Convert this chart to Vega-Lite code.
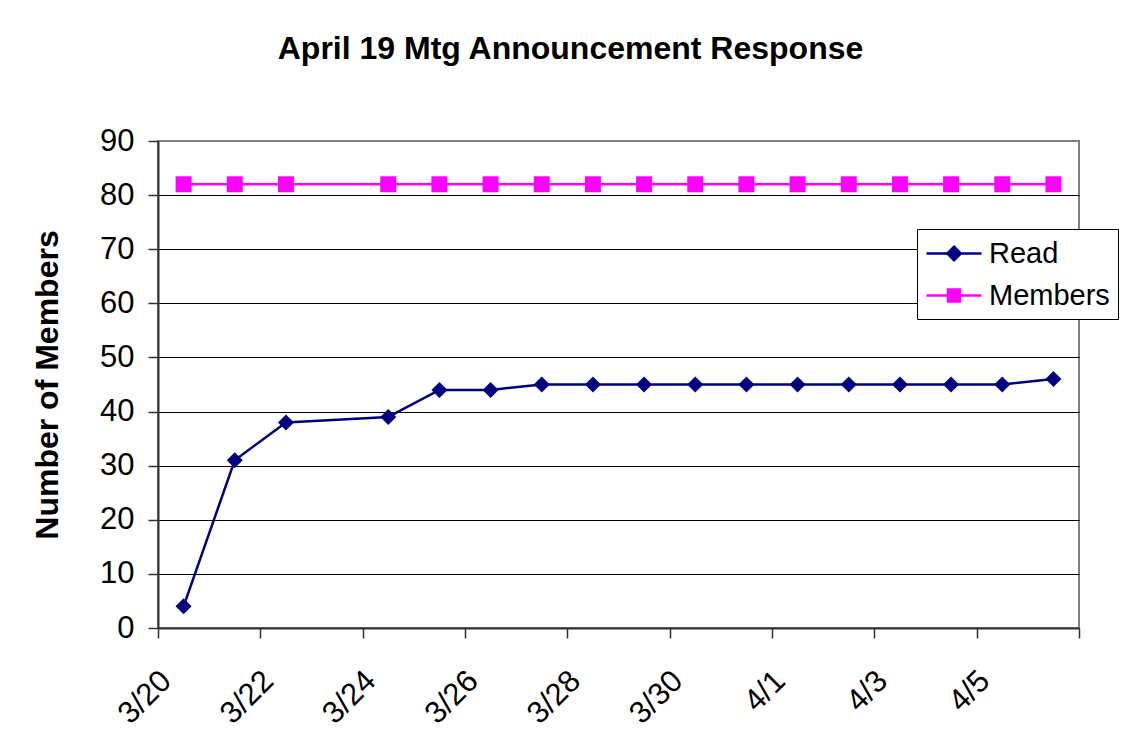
{
  "$schema": "https://vega.github.io/schema/vega-lite/v6.json",
  "width": 921,
  "height": 487,
  "autosize": {"type": "none"},
  "padding": {"left": 158, "top": 141, "right": 43, "bottom": 124},
  "background": "white",
  "config": {
    "font": "Liberation Sans",
    "view": {"stroke": "#808080", "strokeWidth": 2},
    "axis": {
      "labelFont": "Liberation Sans",
      "labelFontSize": 31,
      "labelColor": "black",
      "titleFont": "Liberation Sans",
      "titleFontSize": 32,
      "titleFontWeight": "bold",
      "titleColor": "black",
      "domainColor": "#333333",
      "domainWidth": 2,
      "tickColor": "#333333",
      "tickWidth": 1.5,
      "tickSize": 10
    }
  },
  "title": {
    "text": "April 19 Mtg Announcement Response",
    "font": "Liberation Sans",
    "fontSize": 32,
    "fontWeight": "bold",
    "color": "black",
    "anchor": "middle",
    "frame": "group",
    "dx": -48,
    "baseline": "bottom",
    "offset": 27
  },
  "data": {
    "values": [
      {"date": "2008-03-20", "series": "Read", "value": 4},
      {"date": "2008-03-21", "series": "Read", "value": 31},
      {"date": "2008-03-22", "series": "Read", "value": 38},
      {"date": "2008-03-24", "series": "Read", "value": 39},
      {"date": "2008-03-25", "series": "Read", "value": 44},
      {"date": "2008-03-26", "series": "Read", "value": 44},
      {"date": "2008-03-27", "series": "Read", "value": 45},
      {"date": "2008-03-28", "series": "Read", "value": 45},
      {"date": "2008-03-29", "series": "Read", "value": 45},
      {"date": "2008-03-30", "series": "Read", "value": 45},
      {"date": "2008-03-31", "series": "Read", "value": 45},
      {"date": "2008-04-01", "series": "Read", "value": 45},
      {"date": "2008-04-02", "series": "Read", "value": 45},
      {"date": "2008-04-03", "series": "Read", "value": 45},
      {"date": "2008-04-04", "series": "Read", "value": 45},
      {"date": "2008-04-05", "series": "Read", "value": 45},
      {"date": "2008-04-06", "series": "Read", "value": 46},
      {"date": "2008-03-20", "series": "Members", "value": 82},
      {"date": "2008-03-21", "series": "Members", "value": 82},
      {"date": "2008-03-22", "series": "Members", "value": 82},
      {"date": "2008-03-24", "series": "Members", "value": 82},
      {"date": "2008-03-25", "series": "Members", "value": 82},
      {"date": "2008-03-26", "series": "Members", "value": 82},
      {"date": "2008-03-27", "series": "Members", "value": 82},
      {"date": "2008-03-28", "series": "Members", "value": 82},
      {"date": "2008-03-29", "series": "Members", "value": 82},
      {"date": "2008-03-30", "series": "Members", "value": 82},
      {"date": "2008-03-31", "series": "Members", "value": 82},
      {"date": "2008-04-01", "series": "Members", "value": 82},
      {"date": "2008-04-02", "series": "Members", "value": 82},
      {"date": "2008-04-03", "series": "Members", "value": 82},
      {"date": "2008-04-04", "series": "Members", "value": 82},
      {"date": "2008-04-05", "series": "Members", "value": 82},
      {"date": "2008-04-06", "series": "Members", "value": 82}
    ]
  },
  "encoding": {
    "x": {
      "field": "date",
      "type": "temporal",
      "scale": {
        "type": "utc",
        "domain": [
          {"year": 2008, "month": 3, "date": 19, "hours": 12, "utc": true},
          {"year": 2008, "month": 4, "date": 6, "hours": 12, "utc": true}
        ]
      },
      "axis": {
        "title": null,
        "grid": false,
        "values": [
          {"year": 2008, "month": 3, "date": 19, "hours": 12, "utc": true},
          {"year": 2008, "month": 3, "date": 21, "hours": 12, "utc": true},
          {"year": 2008, "month": 3, "date": 23, "hours": 12, "utc": true},
          {"year": 2008, "month": 3, "date": 25, "hours": 12, "utc": true},
          {"year": 2008, "month": 3, "date": 27, "hours": 12, "utc": true},
          {"year": 2008, "month": 3, "date": 29, "hours": 12, "utc": true},
          {"year": 2008, "month": 3, "date": 31, "hours": 12, "utc": true},
          {"year": 2008, "month": 4, "date": 2, "hours": 12, "utc": true},
          {"year": 2008, "month": 4, "date": 4, "hours": 12, "utc": true},
          {"year": 2008, "month": 4, "date": 6, "hours": 12, "utc": true}
        ],
        "labelExpr": "utcFormat(time(datum.value) + 43200000, '%-m/%-d') == '4/7' ? '' : utcFormat(time(datum.value) + 43200000, '%-m/%-d')",
        "labelAngle": -45,
        "labelAlign": "right",
        "labelBaseline": "middle",
        "labelPadding": 38,
        "labelOffset": 8,
        "labelOverlap": false,
        "labelFlush": false,
        "labelBound": false
      }
    },
    "y": {
      "field": "value",
      "type": "quantitative",
      "scale": {"domain": [0, 90], "nice": false},
      "axis": {
        "title": "Number of Members",
        "values": [0, 10, 20, 30, 40, 50, 60, 70, 80, 90],
        "grid": true,
        "gridColor": {"condition": {"test": "datum.value == 90", "value": "#808080"}, "value": "black"},
        "gridWidth": 1,
        "labelPadding": 14,
        "titlePadding": 35,
        "labelFlush": false
      }
    },
    "color": {
      "field": "series",
      "type": "nominal",
      "scale": {"domain": ["Read", "Members"], "range": ["#000080", "#FF00FF"]},
      "legend": {
        "title": null,
        "orient": "none",
        "legendX": 759,
        "legendY": 88,
        "strokeColor": "black",
        "fillColor": "white",
        "padding": 8,
        "cornerRadius": 0,
        "symbolSize": 900,
        "symbolType": "M-1,0L2.67,0",
        "labelFont": "Liberation Sans",
        "labelFontSize": 29,
        "labelColor": "black",
        "labelOffset": 31,
        "rowPadding": 10,
        "labelLimit": 300,
        "encode": {
          "symbols": {
            "update": {
              "shape": {"signal": "datum.value === 'Read' ? 'M-1,0L2.67,0M0.835,-0.45L1.285,0L0.835,0.45L0.385,0Z' : 'M-1,0L2.67,0M0.435,-0.4L1.235,-0.4L1.235,0.4L0.435,0.4Z'"},
              "fill": {"signal": "datum.value === 'Read' ? '#000080' : '#FF00FF'"},
              "stroke": {"signal": "datum.value === 'Read' ? '#000080' : '#FF00FF'"},
              "strokeWidth": {"value": 2.5},
              "opacity": {"value": 1},
              "fillOpacity": {"value": 1},
              "strokeOpacity": {"value": 1}
            }
          }
        }
      }
    }
  },
  "layer": [
    {"mark": {"type": "line", "strokeWidth": 2.5}},
    {
      "transform": [{"filter": "datum.series === 'Read'"}],
      "mark": {"type": "point", "filled": true, "opacity": 1, "shape": "diamond", "size": 256}
    },
    {
      "transform": [{"filter": "datum.series === 'Members'"}],
      "mark": {"type": "point", "filled": true, "opacity": 1, "shape": "square", "size": 256}
    }
  ]
}
